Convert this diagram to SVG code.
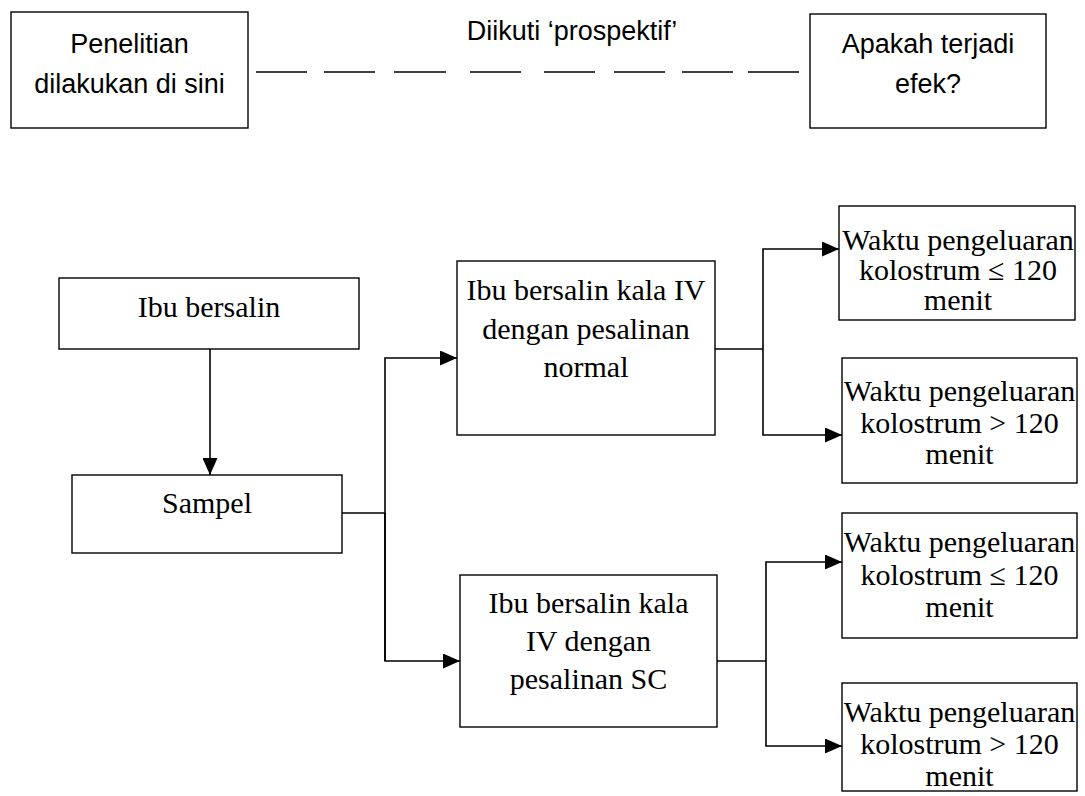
<svg xmlns="http://www.w3.org/2000/svg" width="1085" height="796" viewBox="0 0 1085 796">
<style>
.box{fill:#fff;stroke:#000;stroke-width:1.4}
.ln{fill:none;stroke:#000;stroke-width:1.6}
.dash{stroke:#000;stroke-width:1.4}
.sans{font-family:"Liberation Sans",Arial,sans-serif;font-size:27px;fill:#000;text-anchor:middle}
.serif{font-family:"Liberation Serif","Times New Roman",serif;font-size:30px;fill:#000;text-anchor:middle}
</style>
<defs>
<marker id="arr" viewBox="0 0 17 15" refX="17" refY="7.5" markerWidth="17" markerHeight="15" markerUnits="userSpaceOnUse" orient="auto">
<path d="M0,0 L17,7.5 L0,15 Z" fill="#000"/>
</marker>
</defs>
<rect width="1085" height="796" fill="#fff"/>

<g id="connectors">
<g id="prospektif-line">
<line class="dash" x1="256" y1="72" x2="307" y2="72"/>
<line class="dash" x1="324" y1="72" x2="375" y2="72"/>
<line class="dash" x1="394" y1="72" x2="446" y2="72"/>
<line class="dash" x1="470" y1="72" x2="521" y2="72"/>
<line class="dash" x1="544" y1="72" x2="595" y2="72"/>
<line class="dash" x1="614" y1="72" x2="665" y2="72"/>
<line class="dash" x1="682" y1="72" x2="733" y2="72"/>
<line class="dash" x1="748" y1="72" x2="799" y2="72"/>
</g>
<line class="ln" x1="210" y1="349" x2="210" y2="475" marker-end="url(#arr)"/>
<polyline class="ln" points="342,513 385,513"/>
<polyline class="ln" points="385,661 385,358 457,358" marker-end="url(#arr)"/>
<polyline class="ln" points="385,513 385,661 460,661" marker-end="url(#arr)"/>
<polyline class="ln" points="715,349 763,349"/>
<polyline class="ln" points="763,349 763,249 839,249" marker-end="url(#arr)"/>
<polyline class="ln" points="763,349 763,435 842,435" marker-end="url(#arr)"/>
<polyline class="ln" points="717,661 766,661"/>
<polyline class="ln" points="766,661 766,562 842,562" marker-end="url(#arr)"/>
<polyline class="ln" points="766,661 766,746 842,746" marker-end="url(#arr)"/>
</g>

<g id="label-prospektif">
<text class="sans" x="572" y="40">Diikuti ‘prospektif’</text>
</g>

<g id="node-penelitian">
<rect class="box" x="11" y="12" width="237" height="116"/>
<text class="sans" x="129.5" y="53">Penelitian</text>
<text class="sans" x="129.5" y="93">dilakukan di sini</text>
</g>

<g id="node-efek">
<rect class="box" x="810" y="14" width="236" height="114"/>
<text class="sans" x="928" y="53">Apakah terjadi</text>
<text class="sans" x="928" y="93">efek?</text>
</g>

<g id="node-ibu">
<rect class="box" x="59" y="278" width="300" height="71"/>
<text class="serif" x="209" y="317">Ibu bersalin</text>
</g>

<g id="node-sampel">
<rect class="box" x="72" y="475" width="270" height="78"/>
<text class="serif" x="207" y="513">Sampel</text>
</g>

<g id="node-normal">
<rect class="box" x="457" y="261" width="258" height="174"/>
<text class="serif" x="586" y="300">Ibu bersalin kala IV</text>
<text class="serif" x="586" y="338.5">dengan pesalinan</text>
<text class="serif" x="586" y="377">normal</text>
</g>

<g id="node-sc">
<rect class="box" x="460" y="575" width="257" height="152"/>
<text class="serif" x="588.5" y="613">Ibu bersalin kala</text>
<text class="serif" x="588.5" y="651">IV dengan</text>
<text class="serif" x="588.5" y="689">pesalinan SC</text>
</g>

<g id="node-n-le">
<rect class="box" x="839" y="206" width="236" height="114"/>
<text class="serif" x="958" y="250">Waktu pengeluaran</text>
<text class="serif" x="958" y="280">kolostrum ≤ 120</text>
<text class="serif" x="958" y="310">menit</text>
</g>

<g id="node-n-gt">
<rect class="box" x="842" y="358" width="235" height="125"/>
<text class="serif" x="959.5" y="401">Waktu pengeluaran</text>
<text class="serif" x="959.5" y="433">kolostrum &gt; 120</text>
<text class="serif" x="959.5" y="464">menit</text>
</g>

<g id="node-sc-le">
<rect class="box" x="842" y="513" width="235" height="125"/>
<text class="serif" x="959.5" y="552">Waktu pengeluaran</text>
<text class="serif" x="959.5" y="585">kolostrum ≤ 120</text>
<text class="serif" x="959.5" y="617">menit</text>
</g>

<g id="node-sc-gt">
<rect class="box" x="842" y="683" width="235" height="108"/>
<text class="serif" x="959.5" y="722">Waktu pengeluaran</text>
<text class="serif" x="959.5" y="754">kolostrum &gt; 120</text>
<text class="serif" x="959.5" y="786">menit</text>
</g>
</svg>
